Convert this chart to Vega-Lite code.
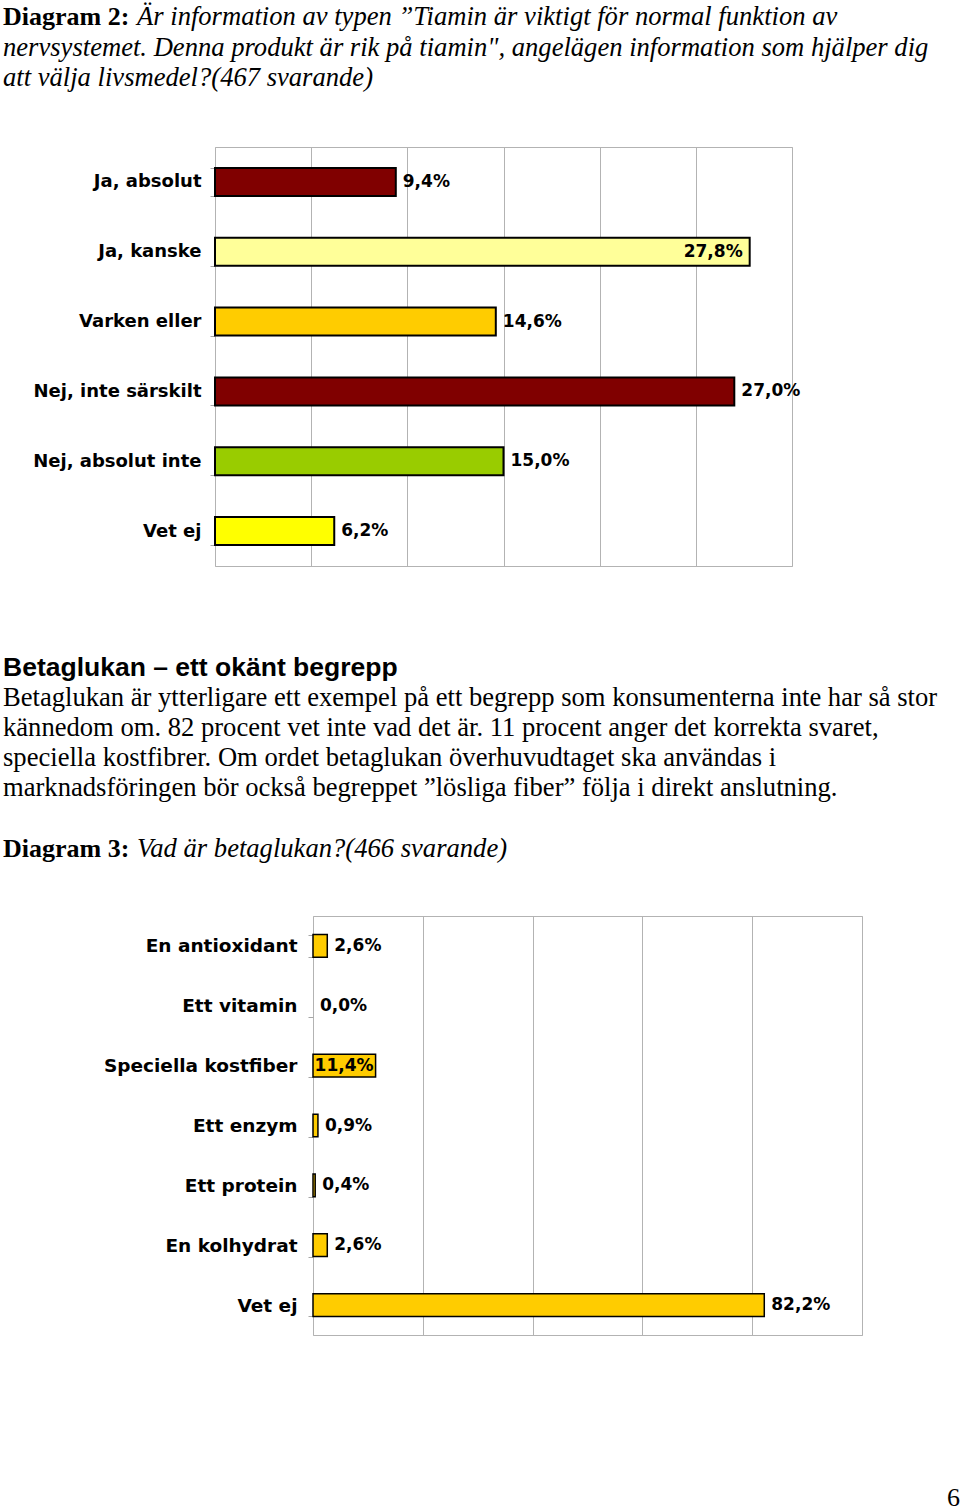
{
  "$schema": "https://vega.github.io/schema/vega-lite/v6.json",
  "background": "white",
  "padding": {"left": 3, "top": 0, "right": 0, "bottom": 0},
  "spacing": 0,
  "config": {
    "view": {"stroke": null},
    "locale": {"number": {"decimal": ",", "thousands": " ", "grouping": [3], "currency": ["", " kr"]}},
    "text": {"color": "black"}
  },
  "vconcat": [
    {
      "width": 957,
      "height": 137,
      "data": {"values": [
        {"line": 1, "lead": "Diagram 2:", "text": "Är information av typen ”Tiamin är viktigt för normal funktion av"},
        {"line": 2, "lead": "", "text": "nervsystemet. Denna produkt är rik på tiamin\", angelägen information som hjälper dig"},
        {"line": 3, "lead": "", "text": "att välja livsmedel?(467 svarande)"}
      ]},
      "encoding": {
        "x": {"value": 0},
        "y": {"field": "line", "type": "quantitative", "axis": null, "scale": {"domain": [0.18, 4.672], "reverse": true, "nice": false, "zero": false}}
      },
      "layer": [
        {"mark": {"type": "text", "align": "left", "baseline": "alphabetic", "font": "Liberation Serif", "fontSize": 26, "fontWeight": "bold"},
         "encoding": {"text": {"field": "lead"}}},
        {"transform": [{"filter": "datum.line == 1"}],
         "mark": {"type": "text", "align": "left", "baseline": "alphabetic", "dx": 134, "font": "Liberation Serif", "fontSize": 26.6, "fontStyle": "italic"},
         "encoding": {"text": {"field": "text"}}},
        {"transform": [{"filter": "datum.line > 1"}],
         "mark": {"type": "text", "align": "left", "baseline": "alphabetic", "font": "Liberation Serif", "fontSize": 26.6, "fontStyle": "italic"},
         "encoding": {"text": {"field": "text"}}}
      ]
    },
    {
      "spacing": 0,
      "hconcat": [
        {"width": 1, "height": 1, "data": {"values": [{"tom": ""}]}, "mark": {"type": "text"}, "encoding": {"text": {"field": "tom"}}},
        {
          "width": 577,
          "height": 419,
          "view": {"stroke": "#b3b3b3", "strokeWidth": 1},
          "data": {"values": [
            {"svar": "Ja, absolut", "andel": 0.094},
            {"svar": "Ja, kanske", "andel": 0.278},
            {"svar": "Varken eller", "andel": 0.146},
            {"svar": "Nej, inte särskilt", "andel": 0.270},
            {"svar": "Nej, absolut inte", "andel": 0.150},
            {"svar": "Vet ej", "andel": 0.062}
          ]},
          "encoding": {
            "y": {"field": "svar", "type": "nominal", "sort": null, "title": null,
                  "scale": {"domain": ["Ja, absolut", "Ja, kanske", "Varken eller", "Nej, inte särskilt", "Nej, absolut inte", "Vet ej"], "paddingInner": 0.6, "paddingOuter": 0.3},
                  "axis": {"domain": false, "tickBand": "extent", "tickSize": 5, "tickColor": "#a6a6a6",
                           "labelPadding": 9, "labelFont": "DejaVu Sans", "labelFontWeight": "bold", "labelFontSize": 18,
                           "labelColor": "black", "labelLimit": 300, "minExtent": 210, "maxExtent": 210, "grid": false}},
            "x": {"field": "andel", "type": "quantitative", "title": null,
                  "scale": {"domain": [0, 0.3], "nice": false},
                  "axis": {"grid": true, "gridColor": "#b3b3b3", "values": [0, 0.05, 0.1, 0.15, 0.2, 0.25, 0.3],
                           "labels": false, "ticks": false, "domain": false, "minExtent": 0, "maxExtent": 0}}
          },
          "layer": [
            {"mark": {"type": "bar", "stroke": "black", "strokeWidth": 2},
             "encoding": {"color": {"field": "svar", "type": "nominal", "legend": null,
                                    "scale": {"domain": ["Ja, absolut", "Ja, kanske", "Varken eller", "Nej, inte särskilt", "Nej, absolut inte", "Vet ej"],
                                              "range": ["#800000", "#FFFF99", "#FFCC00", "#800000", "#99CC00", "#FFFF00"]}}}},
            {"transform": [{"filter": "datum.svar != 'Ja, kanske'"}],
             "mark": {"type": "text", "align": "left", "dx": 7, "font": "DejaVu Sans", "fontWeight": "bold", "fontSize": 17},
             "encoding": {"text": {"field": "andel", "type": "quantitative", "format": ".1%"}}},
            {"transform": [{"filter": "datum.svar == 'Ja, kanske'"}],
             "mark": {"type": "text", "align": "right", "dx": -7, "font": "DejaVu Sans", "fontWeight": "bold", "fontSize": 17},
             "encoding": {"text": {"field": "andel", "type": "quantitative", "format": ".1%"}}}
          ]
        }
      ]
    },
    {
      "width": 957,
      "height": 339,
      "encoding": {
        "x": {"value": 0},
        "y": {"field": "line", "type": "quantitative", "axis": null, "scale": {"domain": [-2.621, 8.641], "reverse": true, "nice": false, "zero": false}}
      },
      "layer": [
        {"data": {"values": [{"line": 1, "text": "Betaglukan – ett okänt begrepp"}]},
         "mark": {"type": "text", "align": "left", "baseline": "alphabetic", "font": "Liberation Sans", "fontSize": 26.5, "fontWeight": "bold"},
         "encoding": {"text": {"field": "text"}}},
        {"data": {"values": [
          {"line": 2, "text": "Betaglukan är ytterligare ett exempel på ett begrepp som konsumenterna inte har så stor"},
          {"line": 3, "text": "kännedom om. 82 procent vet inte vad det är. 11 procent anger det korrekta svaret,"},
          {"line": 4, "text": "speciella kostfibrer. Om ordet betaglukan överhuvudtaget ska användas i"},
          {"line": 5, "text": "marknadsföringen bör också begreppet ”lösliga fiber” följa i direkt anslutning."}
        ]},
         "mark": {"type": "text", "align": "left", "baseline": "alphabetic", "font": "Liberation Serif", "fontSize": 26.6},
         "encoding": {"text": {"field": "text"}}},
        {"data": {"values": [{"line": 7, "lead": "Diagram 3:", "text": "Vad är betaglukan?(466 svarande)"}]},
         "layer": [
           {"mark": {"type": "text", "align": "left", "baseline": "alphabetic", "font": "Liberation Serif", "fontSize": 26, "fontWeight": "bold"},
            "encoding": {"text": {"field": "lead"}}},
           {"mark": {"type": "text", "align": "left", "baseline": "alphabetic", "dx": 134, "font": "Liberation Serif", "fontSize": 26.6, "fontStyle": "italic"},
            "encoding": {"text": {"field": "text"}}}
         ]}
      ]
    },
    {
      "spacing": 0,
      "hconcat": [
        {"width": 1, "height": 1, "data": {"values": [{"tom": ""}]}, "mark": {"type": "text"}, "encoding": {"text": {"field": "tom"}}},
        {
          "width": 549,
          "height": 419,
          "view": {"stroke": "#b3b3b3", "strokeWidth": 1},
          "data": {"values": [
            {"svar": "En antioxidant", "andel": 0.026},
            {"svar": "Ett vitamin", "andel": 0.0},
            {"svar": "Speciella kostfiber", "andel": 0.114},
            {"svar": "Ett enzym", "andel": 0.009},
            {"svar": "Ett protein", "andel": 0.004},
            {"svar": "En kolhydrat", "andel": 0.026},
            {"svar": "Vet ej", "andel": 0.822}
          ]},
          "encoding": {
            "y": {"field": "svar", "type": "nominal", "sort": null, "title": null,
                  "scale": {"domain": ["En antioxidant", "Ett vitamin", "Speciella kostfiber", "Ett enzym", "Ett protein", "En kolhydrat", "Vet ej"], "paddingInner": 0.62, "paddingOuter": 0.31},
                  "axis": {"domain": false, "tickBand": "extent", "tickSize": 5, "tickColor": "#a6a6a6",
                           "labelPadding": 11, "labelFont": "DejaVu Sans", "labelFontWeight": "bold", "labelFontSize": 18.5,
                           "labelColor": "black", "labelLimit": 300, "minExtent": 308, "maxExtent": 308, "grid": false}},
            "x": {"field": "andel", "type": "quantitative", "title": null,
                  "scale": {"domain": [0, 1], "nice": false},
                  "axis": {"grid": true, "gridColor": "#b3b3b3", "values": [0, 0.2, 0.4, 0.6, 0.8, 1],
                           "labels": false, "ticks": false, "domain": false, "minExtent": 0, "maxExtent": 0}}
          },
          "layer": [
            {"transform": [{"filter": "datum.andel > 0"}],
             "mark": {"type": "bar", "stroke": "black", "strokeWidth": 1.5, "color": "#FFCC00"}},
            {"transform": [{"filter": "datum.svar != 'Speciella kostfiber'"}],
             "mark": {"type": "text", "align": "left", "dx": 7, "font": "DejaVu Sans", "fontWeight": "bold", "fontSize": 17},
             "encoding": {"text": {"field": "andel", "type": "quantitative", "format": ".1%"}}},
            {"transform": [{"filter": "datum.svar == 'Speciella kostfiber'"}],
             "mark": {"type": "text", "align": "right", "dx": -2, "font": "DejaVu Sans", "fontWeight": "bold", "fontSize": 17},
             "encoding": {"text": {"field": "andel", "type": "quantitative", "format": ".1%"}}}
          ]
        }
      ]
    },
    {
      "width": 957,
      "height": 170,
      "data": {"values": [{"sida": "6"}]},
      "mark": {"type": "text", "align": "right", "baseline": "alphabetic", "font": "Liberation Serif", "fontSize": 26},
      "encoding": {
        "x": {"value": "width"},
        "y": {"value": "height"},
        "text": {"field": "sida"}
      }
    }
  ]
}
